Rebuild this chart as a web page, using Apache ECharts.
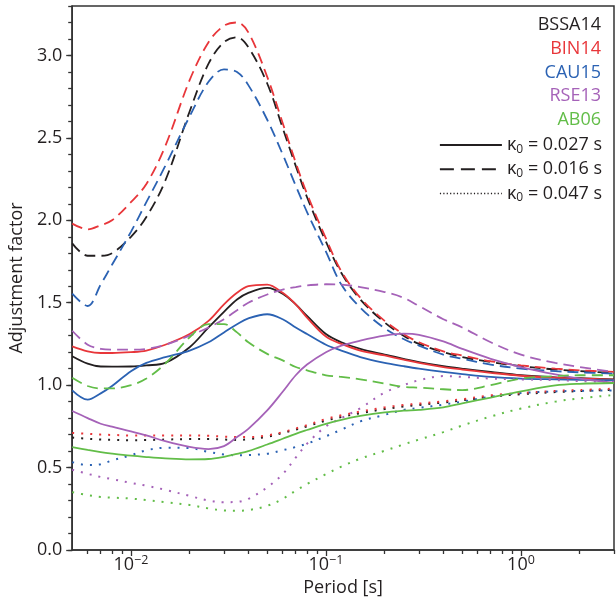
<!DOCTYPE html>
<html>
<head>
<meta charset="utf-8">
<script src="https://cdn.jsdelivr.net/npm/echarts@6/dist/echarts.min.js"></script>
<style>
html,body{margin:0;padding:0;background:#fff;}
#chart{width:616px;height:605px;}
</style>
</head>
<body>
<div id="chart"></div>
<script>
// Period [s]
const periods = [0.005, 0.006, 0.007, 0.008, 0.01, 0.012, 0.015, 0.02, 0.025, 0.03, 0.035, 0.04, 0.05, 0.06, 0.07, 0.08, 0.1, 0.12, 0.15, 0.2, 0.25, 0.3, 0.4, 0.5, 0.7, 1, 1.5, 2, 3];

// Model names and kappa labels
const models = ['BSSA14', 'BIN14', 'CAU15', 'RSE13', 'AB06'];
const kappaLabels = ['κ0 = 0.027 s', 'κ0 = 0.016 s', 'κ0 = 0.047 s'];

// BSSA14
const BSSA14_k027 = [1.175, 1.13, 1.113, 1.112, 1.113, 1.12, 1.135, 1.23, 1.35, 1.445, 1.52, 1.56, 1.59, 1.555, 1.49, 1.42, 1.31, 1.26, 1.22, 1.185, 1.16, 1.14, 1.115, 1.10, 1.08, 1.06, 1.047, 1.042, 1.035];
const BSSA14_k016 = [1.86, 1.785, 1.785, 1.80, 1.90, 2.02, 2.24, 2.66, 2.95, 3.08, 3.11, 3.05, 2.83, 2.56, 2.33, 2.14, 1.87, 1.68, 1.52, 1.38, 1.30, 1.25, 1.20, 1.17, 1.14, 1.115, 1.095, 1.085, 1.075];
const BSSA14_k047 = [0.682, 0.675, 0.67, 0.668, 0.666, 0.667, 0.67, 0.673, 0.673, 0.67, 0.668, 0.672, 0.687, 0.71, 0.73, 0.75, 0.785, 0.807, 0.83, 0.855, 0.87, 0.88, 0.895, 0.908, 0.93, 0.945, 0.958, 0.964, 0.972];
// BIN14
const BIN14_k027 = [1.235, 1.205, 1.195, 1.195, 1.20, 1.21, 1.245, 1.31, 1.39, 1.49, 1.56, 1.60, 1.61, 1.56, 1.49, 1.41, 1.295, 1.25, 1.21, 1.18, 1.155, 1.135, 1.11, 1.095, 1.075, 1.057, 1.045, 1.04, 1.033];
const BIN14_k016 = [1.98, 1.945, 1.97, 2.00, 2.11, 2.22, 2.45, 2.85, 3.08, 3.18, 3.20, 3.14, 2.87, 2.59, 2.35, 2.16, 1.89, 1.69, 1.53, 1.39, 1.31, 1.26, 1.205, 1.18, 1.145, 1.12, 1.10, 1.09, 1.08];
const BIN14_k047 = [0.71, 0.705, 0.70, 0.698, 0.695, 0.695, 0.695, 0.695, 0.693, 0.688, 0.685, 0.685, 0.695, 0.715, 0.737, 0.757, 0.795, 0.817, 0.84, 0.865, 0.879, 0.888, 0.902, 0.915, 0.938, 0.952, 0.965, 0.97, 0.979];
// CAU15
const CAU15_k027 = [0.968, 0.912, 0.95, 0.995, 1.085, 1.135, 1.17, 1.21, 1.26, 1.32, 1.37, 1.405, 1.43, 1.40, 1.35, 1.31, 1.245, 1.21, 1.17, 1.135, 1.115, 1.10, 1.08, 1.067, 1.05, 1.04, 1.035, 1.032, 1.03];
const CAU15_k016 = [1.555, 1.48, 1.61, 1.73, 1.93, 2.11, 2.33, 2.63, 2.84, 2.915, 2.90, 2.82, 2.61, 2.40, 2.21, 2.05, 1.81, 1.61, 1.47, 1.345, 1.28, 1.24, 1.185, 1.16, 1.125, 1.10, 1.085, 1.078, 1.07];
const CAU15_k047 = [0.533, 0.515, 0.52, 0.543, 0.575, 0.605, 0.62, 0.618, 0.595, 0.58, 0.575, 0.576, 0.584, 0.605, 0.625, 0.645, 0.69, 0.73, 0.78, 0.82, 0.85, 0.862, 0.882, 0.90, 0.93, 0.952, 0.962, 0.965, 0.968];
// RSE13
const RSE13_k027 = [0.843, 0.80, 0.766, 0.748, 0.72, 0.695, 0.66, 0.625, 0.612, 0.63, 0.685, 0.735, 0.847, 0.96, 1.06, 1.125, 1.20, 1.24, 1.27, 1.30, 1.312, 1.305, 1.265, 1.22, 1.16, 1.11, 1.065, 1.04, 1.015];
const RSE13_k016 = [1.33, 1.245, 1.22, 1.215, 1.215, 1.22, 1.245, 1.30, 1.35, 1.40, 1.455, 1.50, 1.55, 1.58, 1.595, 1.605, 1.612, 1.61, 1.595, 1.565, 1.53, 1.48, 1.40, 1.35, 1.26, 1.185, 1.135, 1.11, 1.08];
const RSE13_k047 = [0.487, 0.462, 0.443, 0.43, 0.407, 0.39, 0.365, 0.328, 0.30, 0.29, 0.292, 0.31, 0.38, 0.46, 0.56, 0.645, 0.75, 0.80, 0.86, 0.955, 1.00, 1.03, 1.055, 1.05, 1.04, 1.035, 1.03, 1.025, 1.02];
// AB06
const AB06_k027 = [0.624, 0.607, 0.594, 0.585, 0.572, 0.564, 0.556, 0.55, 0.552, 0.565, 0.583, 0.60, 0.64, 0.675, 0.705, 0.728, 0.765, 0.79, 0.813, 0.835, 0.845, 0.85, 0.865, 0.89, 0.925, 0.962, 0.998, 1.008, 1.013];
const AB06_k016 = [1.045, 0.995, 0.98, 0.98, 1.00, 1.04, 1.13, 1.29, 1.37, 1.37, 1.32, 1.26, 1.19, 1.15, 1.11, 1.09, 1.06, 1.05, 1.035, 1.01, 0.99, 0.985, 0.975, 0.97, 1.00, 1.04, 1.055, 1.06, 1.06];
const AB06_k047 = [0.351, 0.333, 0.322, 0.318, 0.312, 0.303, 0.29, 0.273, 0.252, 0.24, 0.238, 0.242, 0.268, 0.31, 0.36, 0.40, 0.46, 0.506, 0.554, 0.602, 0.64, 0.67, 0.715, 0.755, 0.81, 0.858, 0.90, 0.92, 0.94];

// Minor tick periods on the x axis
const xMinorTicks = [0.006, 0.007, 0.008, 0.009, 0.02, 0.03, 0.04, 0.05, 0.06, 0.07, 0.08, 0.09, 0.2, 0.3, 0.4, 0.5, 0.6, 0.7, 0.8, 0.9, 2, 3];

const modelColors = ['#231f20', '#e8363a', '#2b62b3', '#a562b8', '#62bd48'];
const modelData = [
  [BSSA14_k027, BSSA14_k016, BSSA14_k047],
  [BIN14_k027, BIN14_k016, BIN14_k047],
  [CAU15_k027, CAU15_k016, CAU15_k047],
  [RSE13_k027, RSE13_k016, RSE13_k047],
  [AB06_k027, AB06_k016, AB06_k047]
];
const lineTypes = ['solid', [11, 6], [2, 7]];
const lineWidths = [1.8, 1.8, 2];

const FONT = 'Open Sans';
const AXIS_COLOR = '#333333';
const series = [];
models.forEach(function (m, mi) {
  modelData[mi].forEach(function (vals, ki) {
    series.push({
      type: 'line',
      name: m,
      xAxisIndex: 0,
      yAxisIndex: 0,
      data: periods.map(function (p, i) { return [p, vals[i]]; }),
      smooth: 0.35,
      showSymbol: false,
      symbol: 'none',
      silent: true,
      color: modelColors[mi],
      lineStyle: { color: modelColors[mi], width: lineWidths[ki], type: lineTypes[ki], cap: 'butt' },
      z: 3
    });
  });
});
kappaLabels.forEach(function (k, ki) {
  series.push({
    type: 'line', name: k, data: [], symbol: 'none', color: '#231f20',
    lineStyle: { color: '#231f20', width: 2, type: lineTypes[ki] }
  });
});

const chart = echarts.init(document.getElementById('chart'), null, { renderer: 'canvas' });
chart.setOption({
  backgroundColor: '#fff',
  animation: false,
  textStyle: { fontFamily: FONT },
  grid: { left: 71, right: 2, top: 6, bottom: 55, show: true, borderColor: AXIS_COLOR, borderWidth: 1.5, backgroundColor: 'transparent' },
  legend: [
    {
      orient: 'vertical', right: 10, top: 15, align: 'right', icon: 'none',
      itemWidth: 0, itemHeight: 14, itemGap: 3.75, padding: 0, selectedMode: false,
      textStyle: { fontSize: 18, fontFamily: FONT, lineHeight: 20 },
      data: models.map(function (m, i) { return { name: m, textStyle: { color: modelColors[i] } }; })
    },
    {
      orient: 'vertical', right: 14, top: 135, align: 'left',
      itemWidth: 62, itemHeight: 14, itemGap: 3.75, padding: 0, selectedMode: false,
      itemStyle: { opacity: 0, borderWidth: 0 },
      textStyle: {
        fontSize: 18, fontFamily: FONT, color: '#231f20', lineHeight: 20,
        rich: {
          k: { fontSize: 18, fontFamily: FONT, color: '#231f20', lineHeight: 20 },
          s: { fontSize: 12, fontFamily: FONT, color: '#231f20', padding: [9, 0, 0, 0] }
        }
      },
      formatter: function (name) {
        const rest = name.slice(2);
        return '{k|κ}{s|0}{k|' + rest + '}';
      },
      data: [
        { name: kappaLabels[0], lineStyle: { type: 'solid', width: 2, color: '#231f20' } },
        { name: kappaLabels[1], lineStyle: { type: [14, 7], width: 2, color: '#231f20' } },
        { name: kappaLabels[2], lineStyle: { type: [1.2, 2.2], width: 1.5, color: '#231f20' } }
      ]
    }
  ],
  xAxis: [
    {
      type: 'log', logBase: 10, min: 0.005, max: 3, position: 'bottom',
      name: 'Period [s]', nameLocation: 'middle', nameGap: 27,
      nameTextStyle: { fontSize: 18, fontFamily: FONT, color: '#231f20' },
      axisLine: { show: true, onZero: false, lineStyle: { color: AXIS_COLOR, width: 1.5 } },
      axisTick: { show: true, length: 6, lineStyle: { color: AXIS_COLOR, width: 1.3 } },
      axisLabel: {
        show: true, margin: 4,
        showMinLabel: false, showMaxLabel: false,
        formatter: function (v) {
          const lg = Math.log10(v);
          const e = Math.round(lg);
          if (Math.abs(lg - e) > 1e-6) return '';
          return '{b|10}{s|' + (e < 0 ? '−' + (-e) : e) + '}';
        },
        rich: {
          b: { fontSize: 18, fontFamily: FONT, color: '#231f20' },
          s: { fontSize: 12.5, fontFamily: FONT, color: '#231f20', padding: [0, 0, 9, 0] }
        }
      },
      splitLine: { show: false }
    },
    {
      // minor ticks, drawn on a log10 value scale of the same extent
      type: 'value', min: Math.log10(0.005), max: Math.log10(3), position: 'bottom',
      axisLine: { show: false, onZero: false },
      axisTick: { show: true, length: 4, customValues: xMinorTicks.map(function (t) { return Math.log10(t); }), lineStyle: { color: AXIS_COLOR, width: 1.3 } },
      axisLabel: { show: false },
      splitLine: { show: false }
    }
  ],
  yAxis: [
    {
      type: 'value', min: 0, max: 3.3, interval: 0.5, position: 'left',
      name: 'Adjustment factor', nameLocation: 'middle', nameGap: 40,
      nameTextStyle: { fontSize: 18, fontFamily: FONT, color: '#231f20' },
      axisLine: { show: true, onZero: false, lineStyle: { color: AXIS_COLOR, width: 1.5 } },
      axisTick: { show: true, length: 6, lineStyle: { color: AXIS_COLOR, width: 1.3 } },
      axisLabel: {
        margin: 10, fontSize: 18, fontFamily: FONT, color: '#231f20', showMaxLabel: false,
        formatter: function (v) { return v.toFixed(1); }
      },
      splitLine: { show: false }
    },
    {
      type: 'value', min: 0, max: 3.3, interval: 0.1, position: 'left',
      axisLine: { show: false, onZero: false },
      axisTick: { show: true, length: 4, lineStyle: { color: AXIS_COLOR, width: 1.3 } },
      axisLabel: { show: false },
      splitLine: { show: false }
    }
  ],
  series: series
});
</script>
</body>
</html>
